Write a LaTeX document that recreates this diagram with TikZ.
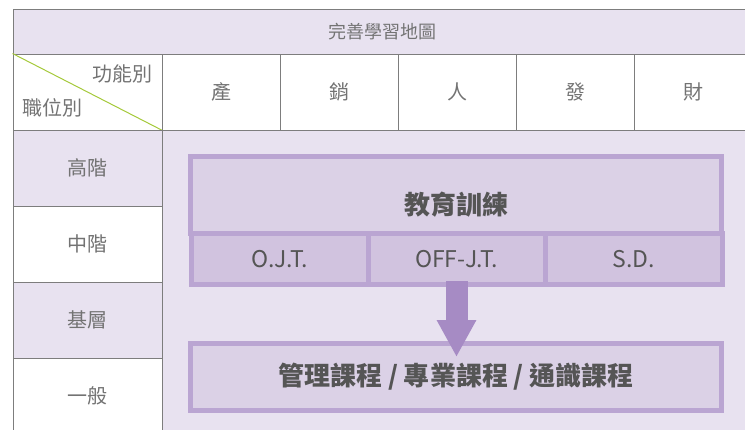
\documentclass[tikz,border=0pt]{standalone}
\usepackage{fontspec}
\setmainfont{Noto Sans CJK TC}
\usetikzlibrary{arrows.meta,positioning,calc}
\definecolor{mapline}{RGB}{125,125,125}
\definecolor{maplight}{RGB}{232,226,240}
\definecolor{mapframe}{RGB}{186,165,210}
\definecolor{maptop}{RGB}{219,209,230}
\definecolor{mapsub}{RGB}{209,195,223}
\definecolor{maparrow}{RGB}{166,139,196}
\definecolor{maptext}{RGB}{115,115,115}
\definecolor{boxtext}{RGB}{85,85,85}
\definecolor{mapgreen}{RGB}{165,201,58}

\begin{document}
\begin{tikzpicture}[x=1pt,y=-1pt, every node/.style={font=\fontsize{20}{23}\selectfont,text=maptext}, cell/.style={draw=mapline,line width=1pt,minimum width=118pt,minimum height=76pt,inner sep=0pt}, rowcell/.style={cell,minimum width=149pt}, tbox/.style={draw=mapframe,line width=5pt,inner sep=0pt,text=boxtext,font=\bfseries\fontsize{22}{26}\selectfont}]
\useasboundingbox (0,0) rectangle (745,429);
% table frame
\node[cell,fill=maplight,minimum width=739pt,minimum height=45pt,font=\fontsize{18}{21}\selectfont] (title) at (382.5,31.5) {完善學習地圖};
\fill[maplight] (162,130) rectangle (752,434);
\node[rowcell] (corner) at (87.5,92) {};
\draw[mapgreen,line width=1pt] (corner.north west) -- (corner.south east);
\node[anchor=east] (funclbl) at (156,74) {功能別};
\node[anchor=west] (poslbl) at (19,108) {職位別};
\foreach \name [count=\i] in {產,銷,人,發,財}{\node[cell] (h\i) at (162+118*\i-59,92) {\name};}
\foreach \name/\fillc [count=\i] in {高階/maplight,中階/white,基層/maplight,一般/white}{\node[rowcell,fill=\fillc] (r\i) at (87.5,130+76*\i-38) {\name};}
% training boxes
\node[tbox,fill=maptop,minimum width=531pt,minimum height=77pt,label={[text=boxtext,font=\bfseries\fontsize{26}{30}\selectfont,yshift=-10pt]center:教育訓練}] (train) at (456,195) {};
\foreach \name/\x [count=\i] in {O.J.T./279.5,OFF-J.T./456.5,S.D./633.5}{\node[tbox,fill=mapsub,minimum width=177pt,minimum height=51pt,font=\fontsize{23}{26}\selectfont] (sub\i) at (\x,259) {\name};}
\node[tbox,fill=maptop,minimum width=531pt,minimum height=67pt,font=\bfseries\fontsize{26}{30}\selectfont] (course) at (456,377) {管理課程 / 專業課程 / 通識課程};
\coordinate (tip) at (456.5,357);
\draw[maparrow,line width=22pt,-{Triangle[length=37pt,width=37pt]}] ([yshift=6pt]sub2.south) -- (tip);
\end{tikzpicture}
\end{document}
